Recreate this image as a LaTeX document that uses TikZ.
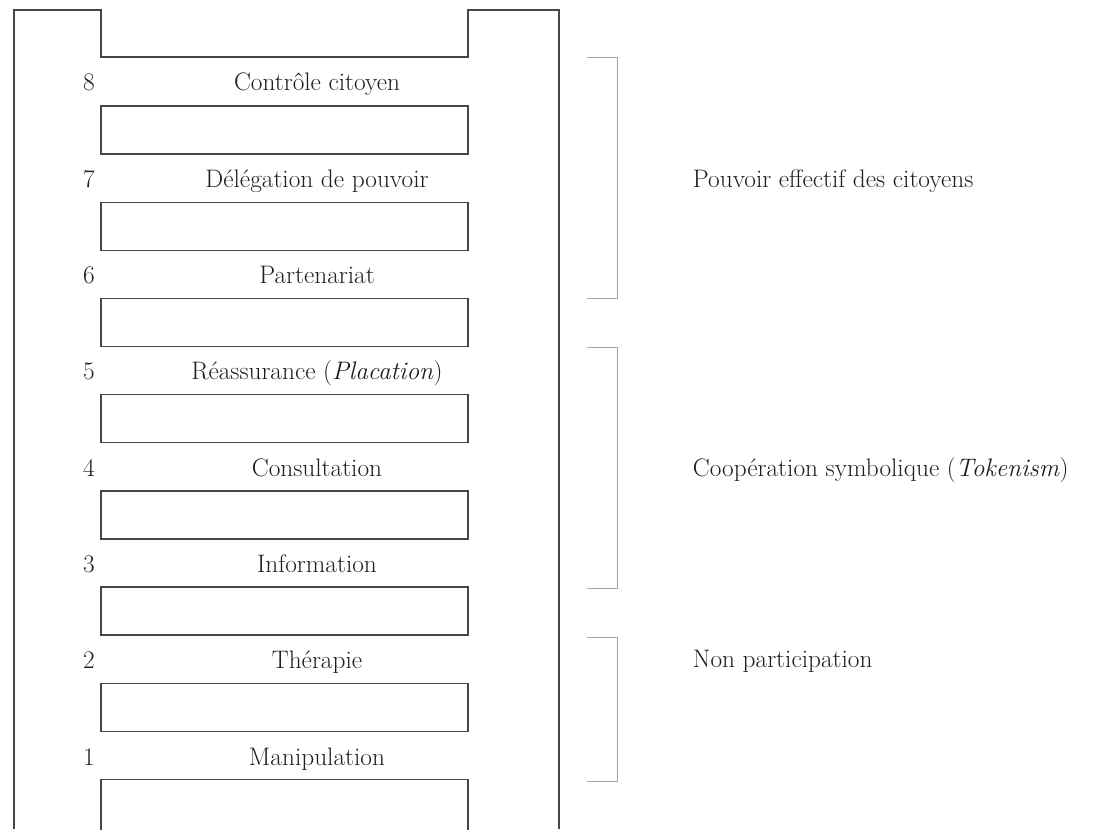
\documentclass[tikz,border=0pt]{standalone}
\usepackage{fontspec}
\usepackage{xcolor}
\usetikzlibrary{positioning}
\definecolor{framegray}{RGB}{70,70,70}
\definecolor{bracegray}{RGB}{165,165,165}
\definecolor{textdark}{RGB}{30,30,30}

\begin{document}
\begin{tikzpicture}[
    x=0.025cm, y=-0.025cm,
    node distance=1.17cm,
    every node/.style={align=center, font=\fontsize{18}{21}\selectfont, text=textdark},
    rung/.style={rectangle, draw=framegray, line width=1pt, minimum width=9.175cm, minimum height=1.2cm, inner sep=0pt},
    steplabel/.style={anchor=base},
    stepnum/.style={anchor=base},
    grouplabel/.style={anchor=base west},
    frame/.style={draw=framegray, line width=1pt},
    bracket/.style={draw=bracegray, line width=0.7pt}
]

\clip (0,0) rectangle (1097,829);

% Ladder frame
\draw[frame] (14,829) -- (14,10) -- (101,10) -- (101,57) -- (468,57) -- (468,10) -- (559,10) -- (559,829);

% Rungs
\node[rung] (rung1) at (284.5,130) {};
\node[rung, below=of rung1] (rung2) {};
\node[rung, below=of rung2] (rung3) {};
\node[rung, below=of rung3] (rung4) {};
\node[rung, below=of rung4] (rung5) {};
\node[rung, below=of rung5] (rung6) {};
\node[rung, below=of rung6] (rung7) {};
\node[rung, below=of rung7, minimum height=1.5cm] (rung8) {};

% Steps
\node[stepnum] (num8) at (89,90.5) {8};
\node[steplabel] (lab8) at (317,90.5) {Contrôle citoyen};
\node[stepnum] (num7) at (89,187) {7};
\node[steplabel] (lab7) at (317,187) {Délégation de pouvoir};
\node[stepnum] (num6) at (89,283) {6};
\node[steplabel] (lab6) at (317,283) {Partenariat};
\node[stepnum] (num5) at (89,379.5) {5};
\node[steplabel] (lab5) at (317,379.5) {Réassurance (\textit{Placation})};
\node[stepnum] (num4) at (89,476) {4};
\node[steplabel] (lab4) at (317,476) {Consultation};
\node[stepnum] (num3) at (89,572) {3};
\node[steplabel] (lab3) at (317,572) {Information};
\node[stepnum] (num2) at (89,668.5) {2};
\node[steplabel] (lab2) at (317,668.5) {Thérapie};
\node[stepnum] (num1) at (89,765) {1};
\node[steplabel] (lab1) at (317,765) {Manipulation};

% Brackets
\draw[bracket] (587,57) -- (617,57) -- (617,298) -- (587,298);
\draw[bracket] (587,347) -- (617,347) -- (617,588) -- (587,588);
\draw[bracket] (587,637) -- (617,637) -- (617,781) -- (587,781);

% Groups
\node[grouplabel] (power) at (688,187) {Pouvoir effectif des citoyens};
\node[grouplabel] (token) at (688,476) {Coopération symbolique (\textit{Tokenism})};
\node[grouplabel] (nonpart) at (688,667) {Non participation};

\end{tikzpicture}
\end{document}
